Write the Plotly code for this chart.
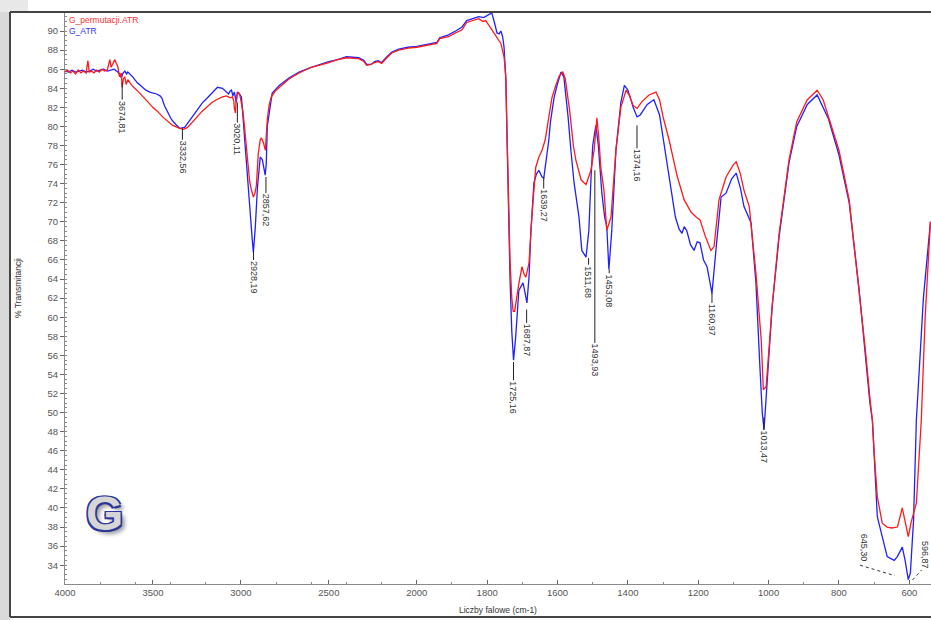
import plotly.graph_objects as go

# ---------------- data ----------------
red_wn = [4000, 3985, 3970, 3955, 3940, 3925, 3910, 3895, 3880, 3870, 3862, 3850, 3835, 3820, 3805, 3790,
          3775, 3760, 3745, 3738, 3730, 3717, 3708, 3700, 3690, 3680, 3675, 3668, 3660, 3652, 3643, 3632,
          3620, 3592, 3575, 3558, 3530, 3501, 3475, 3445, 3420, 3388, 3348, 3325, 3303, 3275, 3252, 3220,
          3195, 3165, 3139, 3105, 3082, 3060, 3048, 3040, 3037, 3031, 3026, 3014, 3005, 2997, 2988, 2980,
          2963, 2950, 2941, 2929, 2920, 2912, 2901, 2890, 2884, 2872, 2861, 2850, 2840, 2827, 2800, 2782,
          2725, 2669, 2600, 2500, 2450, 2400, 2330, 2300, 2285, 2260, 2240, 2220, 2200, 2170, 2142, 2102,
          2050, 2000, 1970, 1943, 1935, 1910, 1890, 1872, 1858, 1840, 1824, 1812, 1804, 1795, 1781, 1770,
          1761, 1752, 1747, 1744, 1740, 1735, 1730, 1726, 1722, 1716, 1710, 1701, 1695, 1690, 1681, 1673,
          1662, 1653, 1644, 1635, 1625, 1616, 1605, 1595, 1585, 1578, 1565, 1555, 1548, 1533, 1519, 1505,
          1496, 1488, 1482, 1477, 1468, 1460, 1448, 1440, 1434, 1420, 1405, 1395, 1385, 1374, 1360, 1340,
          1320, 1310, 1300, 1283, 1260, 1240, 1220, 1206, 1195, 1180, 1164, 1155, 1148, 1141, 1121, 1100,
          1092, 1080, 1070, 1055, 1036, 1021, 1015, 1007, 990, 970, 942, 920, 890, 862, 845, 825,
          800, 771, 743, 725, 712, 705, 700, 691, 677, 663, 650, 634, 620, 612, 603, 595,
          580, 566, 555, 540]
red_t = [85.7, 85.9, 85.6, 85.8, 85.5, 85.9, 85.6, 85.8, 85.6, 86.9, 85.7, 85.8, 85.6, 85.9, 85.7, 86.0,
         85.8, 85.9, 87.0, 86.2, 86.5, 87.0, 86.6, 86.3, 85.2, 85.6, 84.1, 85.0, 85.2, 84.4, 84.9, 84.6,
         84.3, 83.8, 83.5, 83.1, 82.6, 82.0, 81.6, 81.0, 80.6, 80.1, 79.8, 79.7, 79.9, 80.5, 81.0, 81.6,
         82.0, 82.5, 82.8, 83.1, 83.2, 83.0, 83.1, 82.6, 81.9, 81.4, 83.2, 83.6, 83.2, 82.5, 81.5, 80.0,
         76.5, 74.2, 73.4, 72.6, 73.0, 73.8, 77.2, 78.6, 78.8, 78.3, 77.5, 80.7, 82.2, 83.1, 83.8, 84.1,
         85.0, 85.6, 86.2, 86.7, 87.0, 87.2, 87.1, 86.8, 86.4, 86.5, 86.7, 86.8, 86.6, 87.2, 87.7, 88.0,
         88.2, 88.3, 88.5, 88.7, 89.2, 89.4, 89.8, 90.1, 90.9, 91.1, 91.3, 91.0, 91.1, 90.6, 89.8, 89.2,
         88.7, 87.3, 85.2, 80.0, 73.0, 66.0, 62.0, 60.6, 60.6, 62.1, 63.5, 65.3, 64.5, 64.2, 65.7, 70.5,
         75.7, 76.8, 77.5, 78.6, 81.0, 83.0, 84.3, 85.3, 85.7, 85.0, 81.5, 78.0, 76.5, 74.4, 73.9, 75.4,
         77.5, 80.9, 78.5, 75.7, 73.3, 69.1, 70.5, 74.1, 77.5, 82.0, 83.8, 83.2, 82.2, 81.9, 82.6, 83.3,
         83.6, 82.8, 81.0, 78.6, 74.8, 72.3, 71.0, 70.5, 70.2, 68.5, 67.0, 67.4, 70.0, 72.3, 74.7, 76.0,
         76.3, 75.0, 73.3, 71.6, 64.6, 57.6, 52.4, 52.7, 61.1, 68.8, 76.5, 80.5, 82.8, 83.8, 82.8, 80.5,
         77.5, 72.3, 62.9, 56.6, 51.5, 49.2, 45.8, 41.2, 38.4, 38.0, 37.9, 38.0, 40.0, 38.5, 37.0, 38.5,
         40.5, 49.2, 60.0, 70.0]

blue_wn = [4000, 3980, 3960, 3940, 3920, 3900, 3880, 3860, 3840, 3820, 3800, 3780, 3760, 3740, 3720, 3700,
           3690, 3680, 3670, 3660, 3650, 3643, 3632, 3615, 3590, 3558, 3540, 3518, 3500, 3479, 3460, 3450,
           3435, 3422, 3405, 3394, 3370, 3348, 3320, 3300, 3275, 3245, 3218, 3190, 3161, 3133, 3105, 3082,
           3070, 3062, 3054, 3045, 3037, 3026, 3020, 3008, 2997, 2991, 2980, 2969, 2952, 2940, 2935, 2929,
           2922, 2918, 2906, 2897, 2890, 2878, 2867, 2862, 2856, 2850, 2839, 2822, 2782, 2725, 2669, 2600,
           2500, 2450, 2400, 2330, 2300, 2285, 2260, 2240, 2220, 2200, 2170, 2142, 2102, 2050, 2000, 1970,
           1943, 1935, 1910, 1890, 1872, 1858, 1840, 1824, 1810, 1795, 1787, 1780, 1772, 1766, 1761, 1756,
           1752, 1747, 1744, 1740, 1735, 1730, 1727, 1725, 1719, 1714, 1710, 1704, 1698, 1692, 1687, 1681,
           1676, 1667, 1660, 1653, 1644, 1639, 1633, 1625, 1620, 1610, 1600, 1590, 1582, 1575, 1570, 1562,
           1553, 1539, 1531, 1519, 1511, 1505, 1500, 1491, 1484, 1474, 1466, 1460, 1454, 1446, 1440, 1434,
           1420, 1410, 1400, 1385, 1374, 1365, 1345, 1326, 1310, 1297, 1283, 1265, 1254, 1246, 1240, 1233,
           1222, 1212, 1203, 1195, 1185, 1175, 1161, 1154, 1147, 1135, 1121, 1105, 1092, 1080, 1070, 1050,
           1036, 1025, 1018, 1013, 1004, 990, 970, 942, 920, 890, 862, 845, 830, 800, 771, 743,
           725, 712, 705, 700, 691, 677, 663, 643, 634, 620, 612, 603, 597, 588, 580, 560,
           540]
blue_t = [85.8, 85.7, 85.9, 85.7, 85.8, 85.9, 85.7, 85.8, 86.0, 85.8, 85.9, 86.0, 85.8, 85.9, 86.0, 85.7,
          85.5, 85.1, 85.6, 85.8, 85.5, 85.7, 85.5, 85.2, 84.6, 84.1, 83.8, 83.6, 83.5, 83.4, 83.2, 83.0,
          82.2, 81.7, 81.0, 80.7, 80.2, 79.8, 79.9, 80.4, 81.0, 81.8, 82.5, 83.0, 83.6, 84.1, 84.0, 83.6,
          83.4, 83.7, 83.8, 83.2, 83.6, 82.5, 83.6, 83.4, 83.1, 81.7, 78.8, 76.5, 72.0, 68.8, 68.0, 66.8,
          68.5, 69.5, 73.6, 76.0, 76.8, 76.5, 75.2, 74.9, 76.0, 80.0, 81.4, 83.5, 84.3, 85.1, 85.7, 86.2,
          86.8, 87.0, 87.3, 87.2, 86.9, 86.5, 86.5, 86.8, 86.9, 86.7, 87.3, 87.8, 88.1, 88.3, 88.4, 88.6,
          88.8, 89.3, 89.6, 90.0, 90.4, 91.1, 91.3, 91.5, 91.4, 91.7, 91.9, 91.0, 89.8, 89.7, 90.0, 89.4,
          88.3, 85.0, 79.0, 71.0, 64.0, 58.5, 56.0, 55.5, 57.9, 60.5, 62.8, 63.2, 63.6, 62.5, 61.5, 64.2,
          68.8, 74.1, 75.0, 75.4, 74.7, 74.6, 76.2, 78.5, 80.5, 83.0, 84.5, 85.7, 85.2, 83.0, 81.0, 77.5,
          74.1, 70.5, 67.0, 66.3, 69.1, 74.4, 78.0, 80.1, 78.0, 73.0, 70.5, 69.5, 65.0, 69.0, 74.1, 77.5,
          82.5, 84.3, 83.8, 82.0, 81.0, 81.2, 82.3, 82.8, 81.2, 78.0, 74.5, 70.5, 69.2, 68.8, 69.5, 69.1,
          67.6, 67.0, 67.9, 67.8, 66.0, 65.3, 62.5, 65.0, 68.1, 72.6, 73.0, 74.5, 75.1, 73.5, 71.6, 69.9,
          63.6, 55.0, 50.0, 48.2, 53.4, 61.1, 68.5, 76.2, 80.0, 82.3, 83.3, 82.0, 80.8, 77.0, 72.0, 63.0,
          56.0, 51.0, 49.2, 45.0, 39.1, 37.0, 34.9, 34.5, 34.9, 35.9, 34.5, 32.5, 33.2, 38.7, 49.2, 62.0,
          70.0]

peak_labels = ["3674,81", "3332,56", "3020,11", "2928,19", "2857,62", "1725,16", "1687,87",
               "1639,27", "1511,68", "1493,93", "1453,08", "1374,16", "1160,97", "1013,47"]
peak_wn = [3674.81, 3332.56, 3020.11, 2928.19, 2857.62, 1725.16, 1687.87,
           1639.27, 1511.68, 1493.93, 1453.08, 1374.16, 1160.97, 1013.47]
peak_line_top = [84.6, 79.8, 82.5, 67.0, 74.7, 55.3, 60.8, 74.7, 66.2, 75.4, 65.0, 80.1, 62.6, 49.5]
peak_line_bottom = [82.8, 78.6, 80.4, 66.0, 73.0, 53.4, 59.4, 73.5, 65.5, 57.3, 64.6, 77.7, 61.5, 48.2]

# low-wavenumber labels with dotted leader lines
low_labels = ["645,30", "596,87"]
low_text_wn = [728, 556]
low_text_t = [35.8, 35.1]
low_lead_wn = [(740, 641), (591, 565)]
low_lead_t = [(34.0, 32.9), (32.45, 33.5)]

x_tick_wn = [4000, 3500, 3000, 2500, 2000, 1800, 1600, 1400, 1200, 1000, 800, 600]
y_ticks = list(range(34, 92, 2))

series_names = ["G_permutacji.ATR", "G_ATR"]


# piece-wise wavenumber scale (range above 2000 cm-1 drawn at half scale)
def u(w):
    return w if w <= 2000 else 2000 + (w - 2000) / 2.0


FONT = "Liberation Sans, Arial, sans-serif"

fig = go.Figure()
fig.add_trace(go.Scatter(x=[u(w) for w in blue_wn], y=blue_t, mode="lines",
                         line=dict(color="#2020ff", width=1.3), name=series_names[1],
                         showlegend=False, hoverinfo="skip"))
fig.add_trace(go.Scatter(x=[u(w) for w in red_wn], y=red_t, mode="lines",
                         line=dict(color="#ff1a1a", width=1.3), name=series_names[0],
                         showlegend=False, hoverinfo="skip"))

shapes = []
annotations = []
for lab, w, t0, t1 in zip(peak_labels, peak_wn, peak_line_top, peak_line_bottom):
    shapes.append(dict(type="line", xref="x", yref="y", x0=u(w), x1=u(w), y0=t0, y1=t1,
                       line=dict(color="#222", width=1)))
    annotations.append(dict(x=u(w), y=t1, xref="x", yref="y", text=lab, showarrow=False,
                            textangle=90, xanchor="center", yanchor="top", borderpad=0,
                            font=dict(family=FONT, size=9, color="#333")))
for lab, tw, tt, lw, lt in zip(low_labels, low_text_wn, low_text_t, low_lead_wn, low_lead_t):
    shapes.append(dict(type="line", xref="x", yref="y", x0=u(lw[0]), x1=u(lw[1]), y0=lt[0], y1=lt[1],
                       line=dict(color="#333", width=1, dash="dot")))
    annotations.append(dict(x=u(tw), y=tt, xref="x", yref="y", text=lab, showarrow=False,
                            textangle=90, xanchor="center", yanchor="middle", borderpad=0,
                            font=dict(family=FONT, size=9, color="#333")))

W, H = 931, 620
L, R, T, B = 65, 0, 13, 620 - 584
pw, ph = W - L - R, H - T - B


def px(xp):
    return (xp - L) / pw


def py(yp):
    return (H - B - yp) / ph


# left gray strip and frame
shapes.append(dict(type="rect", xref="paper", yref="paper", x0=px(0), x1=px(10), y0=py(620), y1=py(0),
                   fillcolor="#d9d9d9", line=dict(width=0), layer="below"))
shapes.append(dict(type="rect", xref="paper", yref="paper", x0=px(0), x1=px(28), y0=py(12), y1=py(0),
                   fillcolor="#e8e8e8", line=dict(width=0), layer="below"))
for (x0, y0, x1, y1) in [(10, 12, 931, 12), (10, 12, 10, 617), (10, 617, 931, 617)]:
    shapes.append(dict(type="line", xref="paper", yref="paper", x0=px(x0), x1=px(x1), y0=py(y0), y1=py(y1),
                       line=dict(color="#444", width=2)))

# series labels (legend)
annotations.append(dict(x=px(67), y=py(20), xref="paper", yref="paper", text=series_names[0],
                        showarrow=False, xanchor="left", yanchor="middle",
                        font=dict(family=FONT, size=8.5, color="#ff3030")))
annotations.append(dict(x=px(67), y=py(31), xref="paper", yref="paper", text=series_names[1],
                        showarrow=False, xanchor="left", yanchor="middle",
                        font=dict(family=FONT, size=8.5, color="#3030ff")))
# axis titles
annotations.append(dict(x=px(457), y=py(610), xref="paper", yref="paper", text="Liczby falowe (cm-1)",
                        showarrow=False, xanchor="left", yanchor="middle",
                        font=dict(family=FONT, size=8.5, color="#333")))
annotations.append(dict(x=px(18), y=py(288), xref="paper", yref="paper", text="% Transmitancji",
                        showarrow=False, xanchor="center", yanchor="middle", textangle=-90,
                        font=dict(family=FONT, size=8.5, color="#333")))
# panel letter
annotations.append(dict(x=px(104), y=py(513), xref="paper", yref="paper", text="G",
                        showarrow=False, xanchor="center", yanchor="middle",
                        font=dict(family=FONT, size=48, weight="bold",
                                  color="#d6d6d6",
                                  shadow="-1.5px -1.5px 0 #2b3699, 1.5px -1.5px 0 #2b3699, "
                                         "-1.5px 1.5px 0 #2b3699, 1.5px 1.5px 0 #2b3699, "
                                         "4px 4px 4px #999")))

fig.update_layout(
    width=W, height=H, autosize=False,
    margin=dict(l=L, r=R, t=T, b=B, pad=0),
    paper_bgcolor="white", plot_bgcolor="white",
    shapes=shapes, annotations=annotations,
    xaxis=dict(range=[3000, 538.4], tickmode="array", tickvals=[u(w) for w in x_tick_wn],
               ticktext=[str(w) for w in x_tick_wn], showgrid=False, zeroline=False,
               showline=True, linecolor="#8a8a8a", linewidth=1, ticks="inside", ticklen=4,
               tickcolor="#666", tickfont=dict(family=FONT, size=9.5, color="#555"),
               minor=dict(dtick=100, tick0=0, ticks="inside", ticklen=2, tickcolor="#888"),
               automargin=False),
    yaxis=dict(range=[32.03, 91.89], tickmode="array", tickvals=y_ticks,
               ticktext=[str(v) for v in y_ticks], showgrid=False, zeroline=False,
               showline=True, linecolor="#8a8a8a", linewidth=1, ticks="outside", ticklen=4,
               tickcolor="#666", tickfont=dict(family=FONT, size=9.5, color="#555"),
               minor=dict(dtick=0.5, tick0=0, ticks="inside", ticklen=2, tickcolor="#888"),
               automargin=False),
)

# remove the default 8px page margin so the 931x620 figure fills the window exactly
fig.write_html("out.html", config={"displayModeBar": False},
               post_script="document.body.style.margin='0px';document.body.style.overflow='hidden';")
